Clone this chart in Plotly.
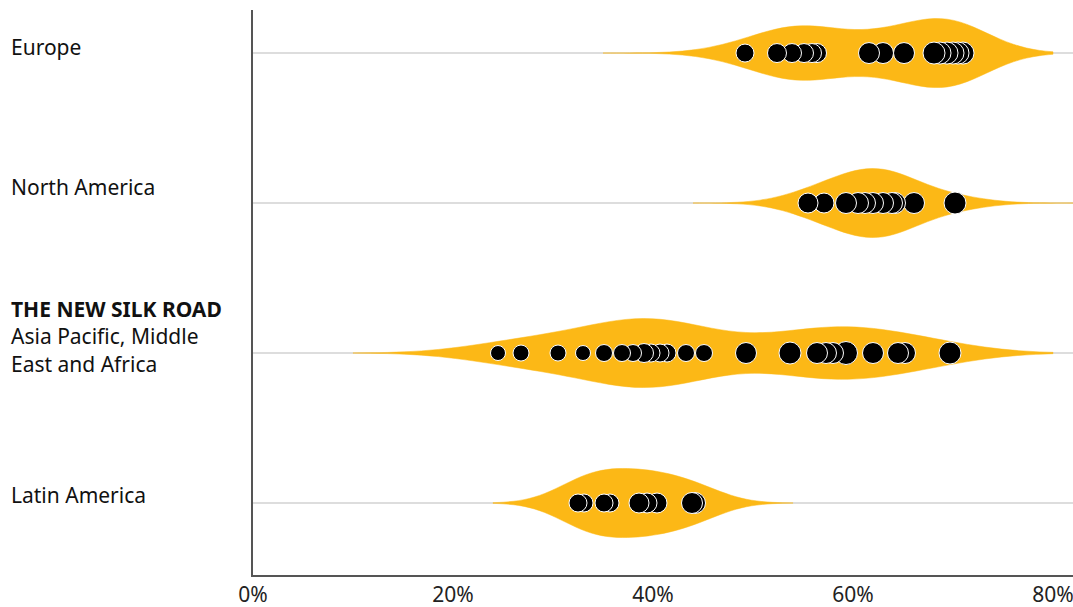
import plotly.graph_objects as go

# ---------------- data ----------------
regions = ["Europe", "North America", "THE NEW SILK ROAD", "Latin America"]
region_labels = [
    "Europe",
    "North America",
    "<b>THE NEW SILK ROAD</b><br>Asia Pacific, Middle<br>East and Africa",
    "Latin America",
]
positions = [3, 2, 1, 0]

europe_vals = [49.2, 52.4, 53.9, 55.1, 55.9, 56.4, 61.6, 63.0, 65.1, 68.1, 68.7, 69.4, 70.0, 70.5, 71.0]
europe_sizes = [18, 19, 19, 19, 19, 19, 21, 21, 21, 22, 22, 22, 22, 22, 22]

na_vals = [55.5, 57.1, 59.3, 60.5, 61.2, 62.0, 63.0, 63.9, 64.2, 66.1, 70.2]
na_sizes = [20, 20, 21, 21, 21, 21, 21, 21, 21, 21, 22]

silk_vals = [24.5, 26.8, 30.5, 33.0, 35.1, 36.9, 38.0, 39.1, 39.8, 40.7, 41.4, 43.3, 45.1,
             49.3, 53.7, 56.4, 57.3, 58.0, 59.3, 62.0, 64.5, 65.2, 69.7]
silk_sizes = [15, 16, 16, 15, 17, 17, 17, 19, 18, 18, 18, 17, 17,
              21, 22, 21, 21, 21, 23, 21, 21, 21, 22]

latam_vals = [32.5, 33.1, 35.1, 35.7, 38.6, 39.4, 40.4, 43.9, 44.2]
latam_sizes = [18, 18, 18, 18, 20, 20, 20, 21, 21]

# KDE settings per region (bandwidth, span)
bandwidths = [4.0, 3.4, 5.2, 3.2]
spans = [[35, 80], [44, 82], [10, 80], [24, 54]]

x_ticks = [0, 20, 40, 60, 80]
x_tick_text = ["0%", "20%", "40%", "60%", "80%"]

# ---------------- styles ----------------
YELLOW = "#FCB816"
FONT = "Noto Sans, Open Sans, sans-serif"

all_vals = [europe_vals, na_vals, silk_vals, latam_vals]
all_sizes = [europe_sizes, na_sizes, silk_sizes, latam_sizes]

fig = go.Figure()

for name, pos, vals, bw, sp in zip(regions, positions, all_vals, bandwidths, spans):
    fig.add_trace(go.Violin(
        x=vals,
        y0=pos,
        orientation="h",
        name=name,
        side="both",
        bandwidth=bw,
        spanmode="manual",
        span=sp,
        scalemode="width",
        width=0.46,
        points=False,
        fillcolor=YELLOW,
        line=dict(color=YELLOW, width=0.5),
        opacity=1,
        hoverinfo="skip",
        showlegend=False,
    ))

for name, pos, vals, sizes in zip(regions, positions, all_vals, all_sizes):
    fig.add_trace(go.Scatter(
        x=vals[::-1],
        y=[pos] * len(vals),
        mode="markers",
        marker=dict(color="black", size=sizes[::-1], opacity=1,
                    line=dict(color="white", width=1)),
        showlegend=False,
        name=name,
    ))

for lab, pos, shift in zip(region_labels, positions, [6, 16, 17, 8]):
    fig.add_annotation(
        text=lab, xref="paper", yref="y", x=-0.2951, y=pos, yshift=shift, xshift=-2,
        xanchor="left", yanchor="middle", align="left", showarrow=False,
        font=dict(family=FONT, size=21, color="#111111"),
    )

fig.update_layout(
    width=1073, height=607,
    margin=dict(l=253, r=0, t=10, b=32),
    plot_bgcolor="white", paper_bgcolor="white",
    violinmode="overlay",
    font=dict(family=FONT, size=21, color="#222222"),
    xaxis=dict(
        range=[0, 82], tickvals=x_ticks, ticktext=x_tick_text,
        showgrid=False, zeroline=False, showline=True, linecolor="#555555", linewidth=2,
        ticks="", tickfont=dict(size=21, color="#222222"), ticklabeloverflow="allow",
    ),
    yaxis=dict(
        range=[-0.48, 3.287], tickvals=positions, showticklabels=False,
        showgrid=True, gridcolor="#dddddd", gridwidth=2, zeroline=False,
        showline=True, linecolor="#555555", linewidth=2, ticks="",
    ),
)

fig.write_html(
    "out.html",
    config={"displayModeBar": False},
    post_script="document.body.style.margin='0';document.body.style.overflow='hidden';",
)
